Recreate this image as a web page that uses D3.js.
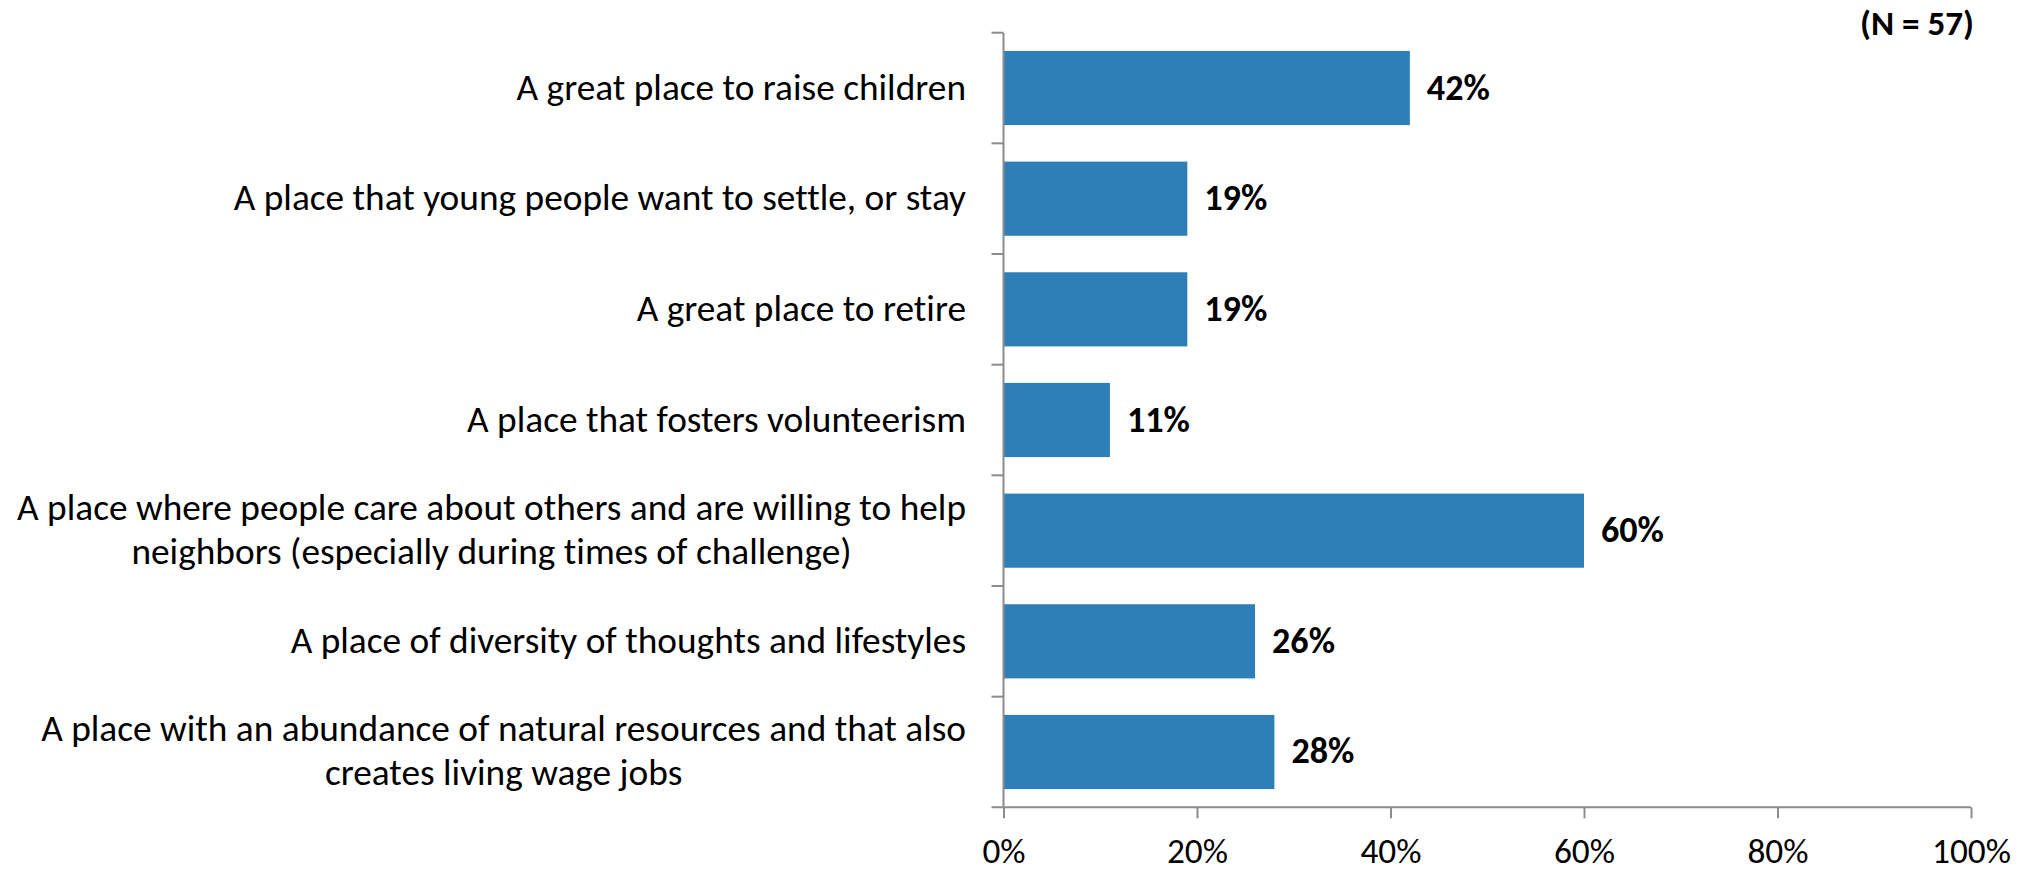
<!DOCTYPE html>
<html>
<head>
<meta charset="utf-8">
<script src="https://cdn.jsdelivr.net/npm/d3@7"></script>
<style>
  html, body { margin: 0; padding: 0; background: #ffffff; }
  svg { display: block; }
  text { font-family: Carlito, Calibri, Lato, "Open Sans", sans-serif; fill: #000; font-variant-ligatures: none; font-feature-settings: "liga" 0; }
</style>
</head>
<body>
<svg id="chart" width="2035" height="872"></svg>
<script>
// ---- data ----
const categories = [
  ["A great place to raise children"],
  ["A place that young people want to settle, or stay"],
  ["A great place to retire"],
  ["A place that fosters volunteerism"],
  ["A place where people care about others and are willing to help", "neighbors (especially during times of challenge)"],
  ["A place of diversity of thoughts and lifestyles"],
  ["A place with an abundance of natural resources and that also", "creates living wage jobs"]
];
const values = [42, 19, 19, 11, 60, 26, 28];
const xTicks = [0, 20, 40, 60, 80, 100];
const sampleNote = "(N = 57)";

// ---- layout ----
const plot = { left: 1003.5, right: 1971, top: 32.7, bottom: 807.3 };
const axisColor = "#8c8c8c";
const barColor = "#2E7EB8";

const svg = d3.select("#chart");

// fit font sizes to the reference (Calibri) text widths
function fitSize(str, target, bold) {
  const base = 36;
  const p = svg.append("text").attr("font-size", base).attr("font-weight", bold ? "bold" : null).text(str);
  const w = p.node().getComputedTextLength();
  p.remove();
  return Math.min(base * 1.15, base * target / w);
}
const fsCat = fitSize(categories[6][0], 925, false);
const fsTick = fitSize("100%", 79, false);
const fsVal = fitSize("42%", 63, true);
const fsNote = fitSize(sampleNote, 114, true);
const lineH = 44;

const x = d3.scaleLinear().domain([0, 100]).range([plot.left, plot.right]);
const y = d3.scaleBand()
  .domain(d3.range(categories.length))
  .range([plot.top, plot.bottom])
  .paddingInner(0.33)
  .paddingOuter(0.165);

// bars
svg.append("g").selectAll("rect")
  .data(values)
  .join("rect")
  .attr("x", x(0))
  .attr("y", (d, i) => y(i))
  .attr("width", d => x(d) - x(0))
  .attr("height", y.bandwidth())
  .attr("fill", barColor);

// x axis
const xAxis = d3.axisBottom(x)
  .tickValues(xTicks)
  .tickFormat(d => d + "%")
  .tickSize(11)
  .tickSizeOuter(0);
const gx = svg.append("g")
  .attr("transform", `translate(0,${plot.bottom})`)
  .call(xAxis);
gx.select(".domain").remove();
gx.selectAll(".tick line").attr("stroke", axisColor).attr("stroke-width", 2);
gx.selectAll(".tick text")
  .attr("font-size", fsTick)
  .attr("font-family", null)
  .attr("fill", "#000")
  .attr("y", 56)
  .attr("dy", 0);
gx.append("line")
  .attr("x1", plot.left - 12).attr("x2", plot.right)
  .attr("y1", 0).attr("y2", 0)
  .attr("stroke", axisColor).attr("stroke-width", 2);

// y axis line + band-boundary ticks
const boundaries = d3.range(categories.length + 1).map(i => plot.top + i * (plot.bottom - plot.top) / categories.length);
const gy = svg.append("g");
gy.append("line")
  .attr("x1", plot.left).attr("x2", plot.left)
  .attr("y1", plot.top).attr("y2", plot.bottom)
  .attr("stroke", axisColor).attr("stroke-width", 2);
gy.selectAll("line.tk")
  .data(boundaries.slice(0, -1))
  .join("line")
  .attr("class", "tk")
  .attr("x1", plot.left - 12).attr("x2", plot.left)
  .attr("y1", d => d).attr("y2", d => d)
  .attr("stroke", axisColor).attr("stroke-width", 2);

// category labels (multi-line blocks right-aligned, lines centered within block)
const labelRight = 966;
const lg = svg.append("g");
categories.forEach((lines, i) => {
  const cy = y(i) + y.bandwidth() / 2;
  const t = lg.append("text").attr("font-size", fsCat);
  const spans = lines.map(ln => t.append("tspan").text(ln));
  const widths = spans.map(s => s.node().getComputedTextLength());
  const maxW = d3.max(widths);
  const n = lines.length;
  spans.forEach((s, j) => {
    s.attr("x", labelRight - maxW / 2)
     .attr("y", cy + (j - (n - 1) / 2) * lineH + 11.5)
     .attr("text-anchor", "middle");
  });
});

// value labels
svg.append("g").selectAll("text")
  .data(values)
  .join("text")
  .attr("x", d => x(d) + 17)
  .attr("y", (d, i) => y(i) + y.bandwidth() / 2 + 11.5)
  .attr("font-size", fsVal)
  .attr("font-weight", "bold")
  .text(d => d + "%");

// sample size note
svg.append("text")
  .attr("x", 1974)
  .attr("y", 35)
  .attr("text-anchor", "end")
  .attr("font-size", fsNote)
  .attr("font-weight", "bold")
  .text(sampleNote);
</script>
</body>
</html>
